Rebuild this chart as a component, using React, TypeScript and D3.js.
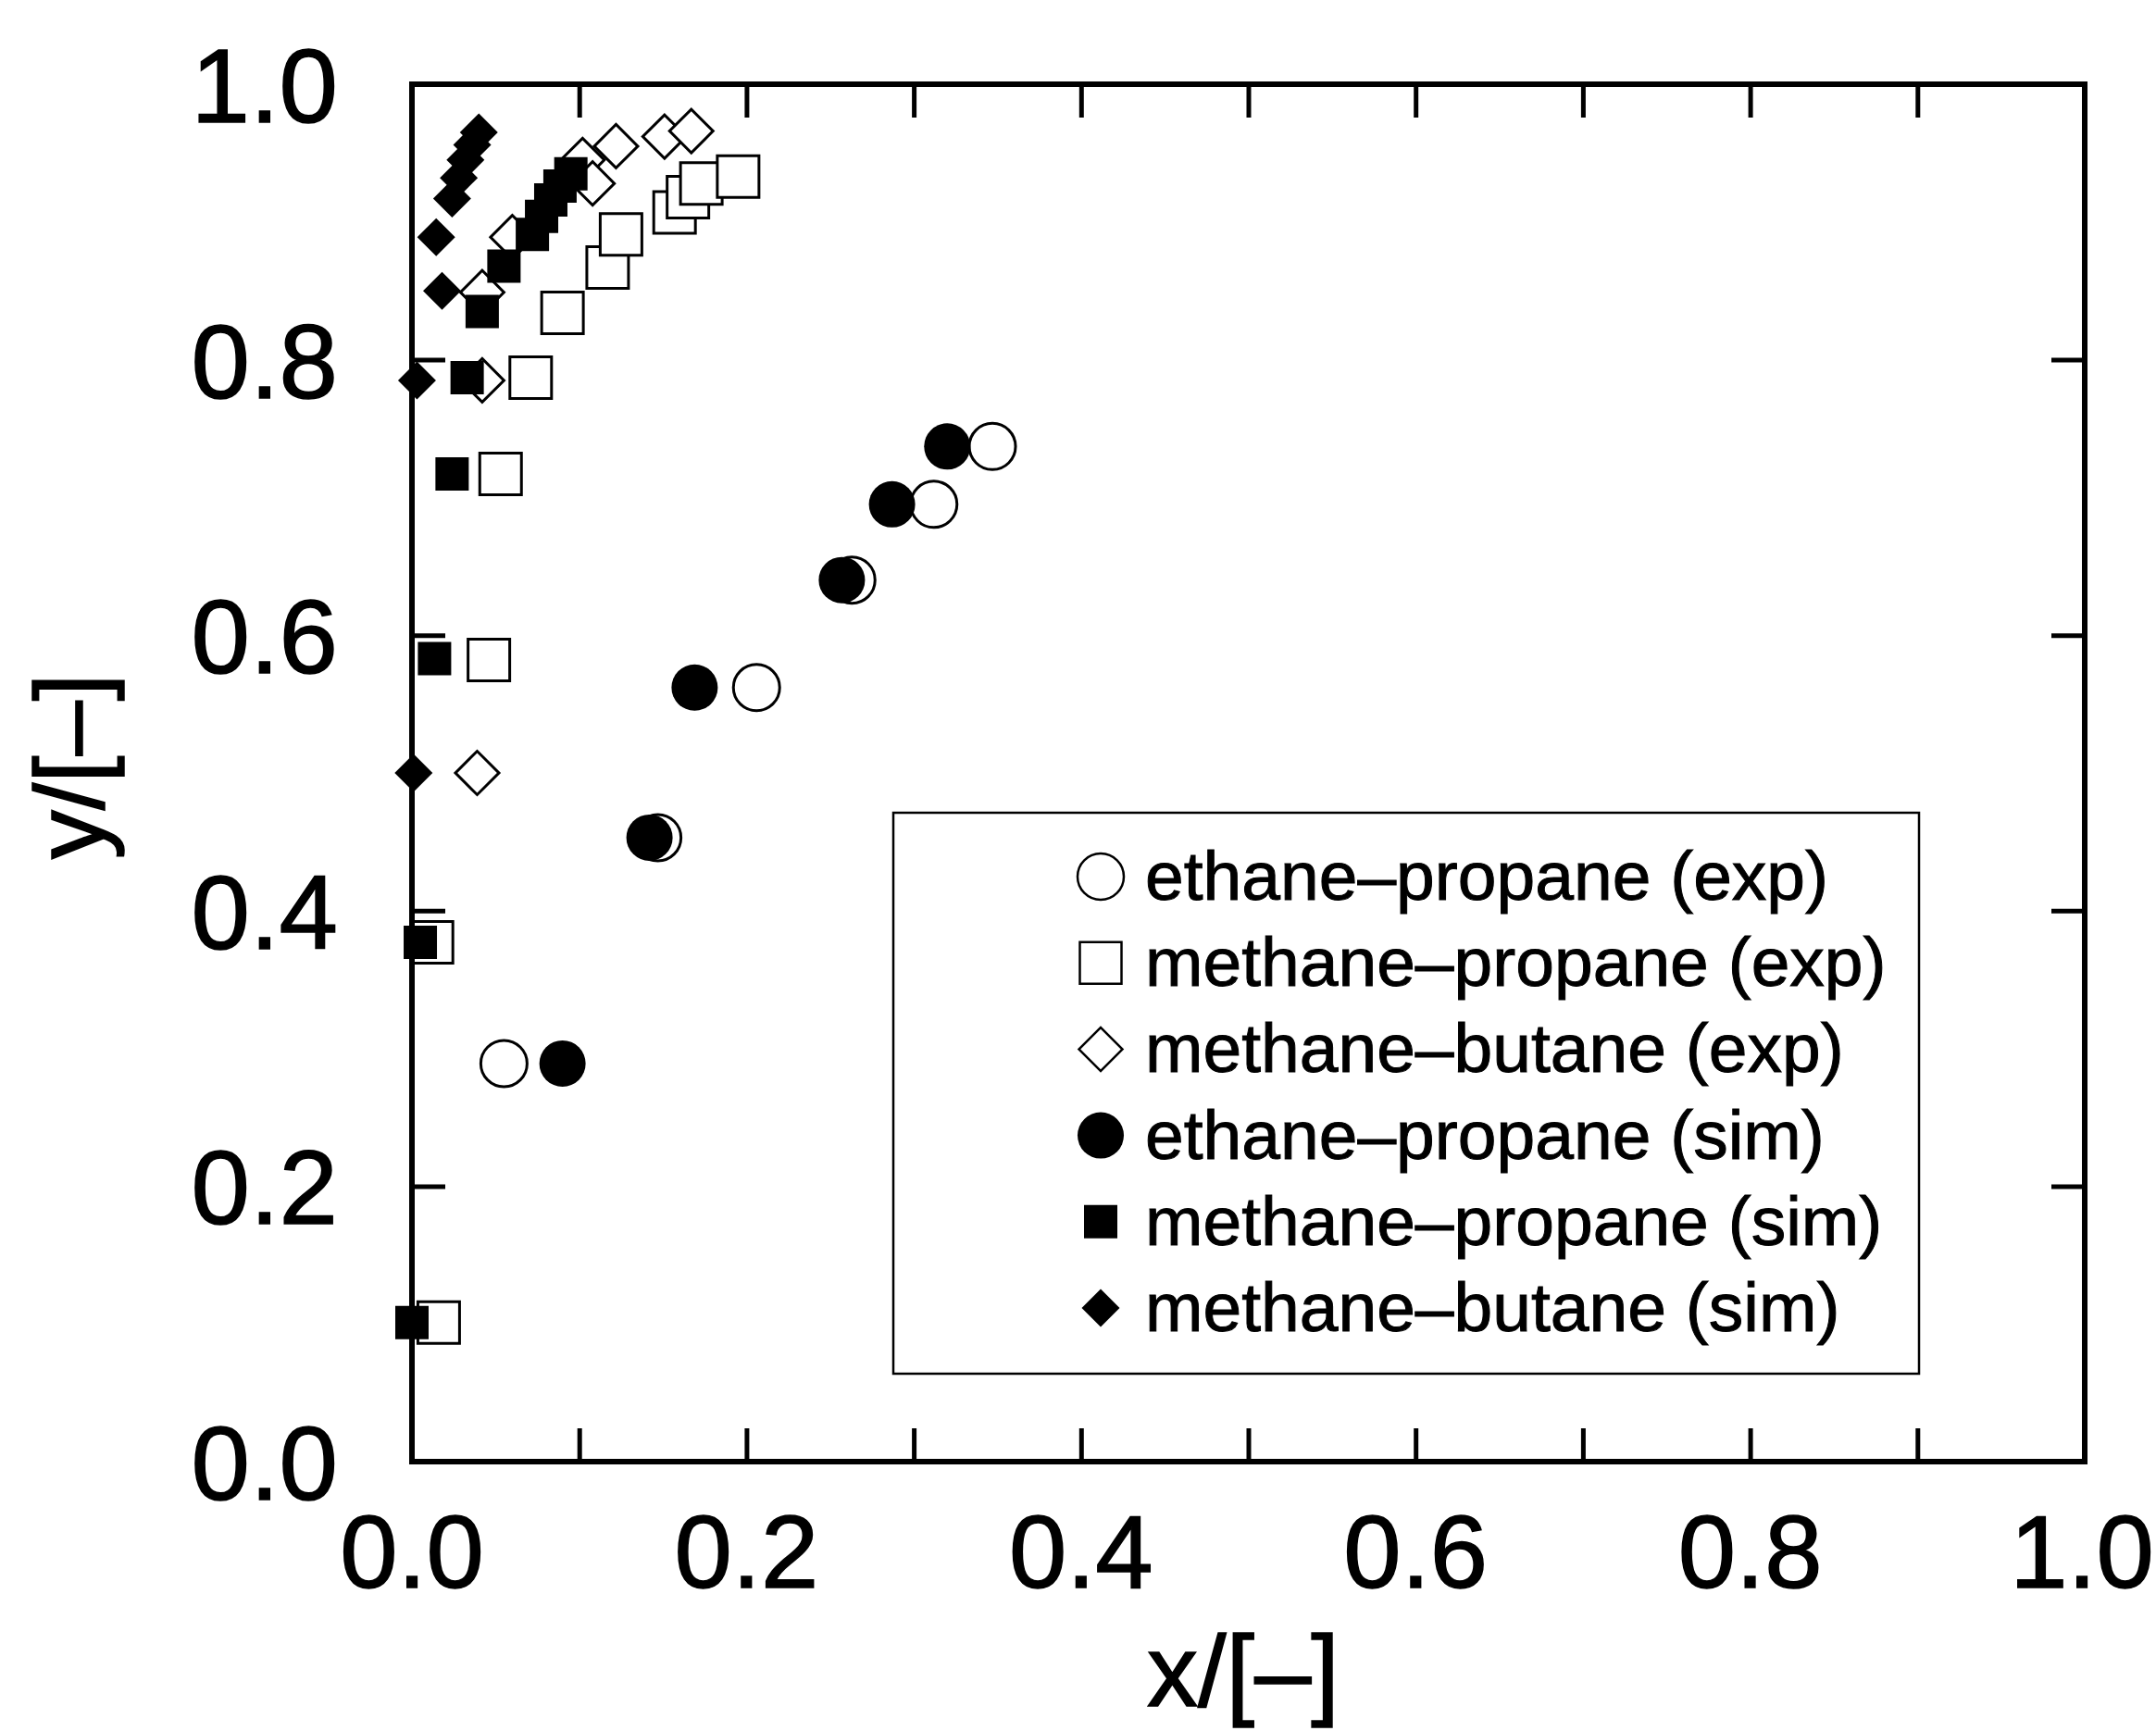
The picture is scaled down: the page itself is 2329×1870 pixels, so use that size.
import { useEffect, useRef } from "react";
import * as d3 from "d3";

// data: [x, y]
const ethanePropaneExp: [number, number][] = [
  [0.055, 0.289], [0.147, 0.453], [0.206, 0.562], [0.263, 0.640],
  [0.312, 0.695], [0.347, 0.737],
];
const methanePropaneExp: [number, number][] = [
  [0.016, 0.101], [0.012, 0.377], [0.046, 0.582], [0.053, 0.717],
  [0.071, 0.787], [0.090, 0.834], [0.117, 0.867], [0.125, 0.891],
  [0.157, 0.907], [0.165, 0.918], [0.173, 0.928], [0.195, 0.933],
];
const methaneButaneExp: [number, number][] = [
  [0.039, 0.500], [0.042, 0.785], [0.042, 0.849], [0.060, 0.889],
  [0.102, 0.945], [0.108, 0.928], [0.122, 0.955], [0.151, 0.962],
  [0.167, 0.966],
];
const ethanePropaneSim: [number, number][] = [
  [0.090, 0.289], [0.142, 0.453], [0.169, 0.562], [0.257, 0.640],
  [0.287, 0.695], [0.320, 0.737],
];
const methanePropaneSim: [number, number][] = [
  [0.000, 0.101], [0.005, 0.377], [0.0135, 0.583], [0.024, 0.717],
  [0.033, 0.787], [0.042, 0.835], [0.055, 0.868], [0.072, 0.891],
  [0.0775, 0.904], [0.083, 0.916], [0.0885, 0.926], [0.095, 0.935],
];
const methaneButaneSim: [number, number][] = [
  [0.001, 0.500], [0.003, 0.785], [0.018, 0.850], [0.0145, 0.889],
  [0.024, 0.917], [0.028, 0.932], [0.032, 0.945], [0.036, 0.956],
  [0.040, 0.965],
];

const legendLabels = [
  "ethane\u2013propane (exp)",
  "methane\u2013propane (exp)",
  "methane\u2013butane (exp)",
  "ethane\u2013propane (sim)",
  "methane\u2013propane (sim)",
  "methane\u2013butane (sim)",
];

const xLabelTicks = [0, 0.2, 0.4, 0.6, 0.8, 1.0];
const xMarkTicks = [0.1, 0.2, 0.3, 0.4, 0.5, 0.6, 0.7, 0.8, 0.9];
const yLabelTicks = [0, 0.2, 0.4, 0.6, 0.8, 1.0];
const yMarkTicks = [0.2, 0.4, 0.6, 0.8];

const FONT = "'Liberation Sans', Arial, Helvetica, sans-serif";

type Marker = { shape: "circle" | "square" | "diamond"; filled: boolean; size: number };

const markers: Marker[] = [
  { shape: "circle", filled: false, size: 50 },
  { shape: "square", filled: false, size: 45 },
  { shape: "diamond", filled: false, size: 47 },
  { shape: "circle", filled: true, size: 50 },
  { shape: "square", filled: true, size: 36 },
  { shape: "diamond", filled: true, size: 41 },
];

const App = () => {
  const ref = useRef<SVGSVGElement>(null);

  useEffect(() => {
    const svg = d3.select(ref.current);
    svg.selectAll("*").remove();

    const width = 2329, height = 1870;
    const left = 445, right = 2252, top = 91, bottom = 1579;

    const x = d3.scaleLinear().domain([0, 1]).range([left, right]);
    const y = d3.scaleLinear().domain([0, 1]).range([bottom, top]);

    svg.append("rect").attr("width", width).attr("height", height).attr("fill", "#fff");

    // tick marks on all four sides, pointing inward
    const tickLen = 36;
    const axisStyle = (g: any) => {
      g.select(".domain").remove();
      g.selectAll("line").attr("stroke", "#000").attr("stroke-width", 5);
    };
    svg.append("g").attr("transform", `translate(0,${bottom})`)
      .call(d3.axisBottom(x).tickValues(xMarkTicks).tickSize(-tickLen).tickFormat(() => ""))
      .call(axisStyle);
    svg.append("g").attr("transform", `translate(0,${top})`)
      .call(d3.axisTop(x).tickValues(xMarkTicks).tickSize(-tickLen).tickFormat(() => ""))
      .call(axisStyle);
    svg.append("g").attr("transform", `translate(${left},0)`)
      .call(d3.axisLeft(y).tickValues(yMarkTicks).tickSize(-tickLen).tickFormat(() => ""))
      .call(axisStyle);
    svg.append("g").attr("transform", `translate(${right},0)`)
      .call(d3.axisRight(y).tickValues(yMarkTicks).tickSize(-tickLen).tickFormat(() => ""))
      .call(axisStyle);

    // tick labels
    svg.append("g").selectAll("text").data(xLabelTicks).enter().append("text")
      .attr("x", d => Math.min(x(d), 2249)).attr("y", 1715)
      .attr("text-anchor", "middle")
      .attr("font-family", FONT).attr("font-size", 112)
      .attr("stroke", "#000").attr("stroke-width", 1.5)
      .text(d => d.toFixed(1));
    svg.append("g").selectAll("text").data(yLabelTicks).enter().append("text")
      .attr("x", 365).attr("y", d => y(d) + 41)
      .attr("text-anchor", "end")
      .attr("font-family", FONT).attr("font-size", 114)
      .attr("stroke", "#000").attr("stroke-width", 1.5)
      .text(d => d.toFixed(1));

    // axis titles
    svg.append("text").attr("x", 1343).attr("y", 1843)
      .attr("text-anchor", "middle").attr("font-family", FONT).attr("font-size", 110)
      .attr("stroke", "#000").attr("stroke-width", 1.5)
      .text("x/[\u2013]");
    svg.append("text").attr("transform", "translate(112,828) rotate(-90)")
      .attr("text-anchor", "middle").attr("font-family", FONT).attr("font-size", 106)
      .attr("stroke", "#000").attr("stroke-width", 1.5)
      .text("y/[\u2013]");

    const symbolPath = (m: Marker) => {
      if (m.shape === "circle") return d3.symbol().type(d3.symbolCircle).size(Math.PI * (m.size / 2) ** 2)()!;
      if (m.shape === "square") return d3.symbol().type(d3.symbolSquare).size(m.size * m.size)()!;
      const side = m.size / Math.SQRT2;
      return d3.symbol().type(d3.symbolSquare).size(side * side)()!;
    };
    const drawMarkers = (data: [number, number][], m: Marker) => {
      svg.append("g").selectAll("path")
        .data([...data].sort((a, b) => a[0] - b[0]))
        .enter().append("path")
        .attr("d", symbolPath(m))
        .attr("transform", d => `translate(${x(d[0])},${y(d[1])})${m.shape === "diamond" ? " rotate(45)" : ""}`)
        .attr("fill", m.filled ? "#000" : "#fff")
        .attr("stroke", "#000")
        .attr("stroke-width", m.filled ? 0 : 3);
    };

    const series = [ethanePropaneExp, methanePropaneExp, methaneButaneExp,
      ethanePropaneSim, methanePropaneSim, methaneButaneSim];
    series.forEach((s, i) => drawMarkers(s, markers[i]));

    // frame
    svg.append("rect")
      .attr("x", left).attr("y", top)
      .attr("width", right - left).attr("height", bottom - top)
      .attr("fill", "none").attr("stroke", "#000").attr("stroke-width", 6);

    // legend
    const lg = svg.append("g");
    lg.append("rect")
      .attr("x", 965).attr("y", 878).attr("width", 1108).attr("height", 606)
      .attr("fill", "#fff").attr("stroke", "#000").attr("stroke-width", 2.5);
    legendLabels.forEach((label, i) => {
      const cy = 947 + i * 93.2;
      const m = markers[i];
      lg.append("path")
        .attr("d", symbolPath(m))
        .attr("transform", `translate(1189,${cy})${m.shape === "diamond" ? " rotate(45)" : ""}`)
        .attr("fill", m.filled ? "#000" : "#fff")
        .attr("stroke", "#000")
        .attr("stroke-width", m.filled ? 0 : 2.5);
      lg.append("text")
        .attr("x", 1237).attr("y", cy + 25)
        .attr("font-family", FONT).attr("font-size", 75)
        .attr("stroke", "#000").attr("stroke-width", 1)
        .text(label);
    });
  }, []);

  return (
    <svg ref={ref} width={2329} height={1870}
      style={{ position: "absolute", left: 0, top: 0, display: "block" }} />
  );
};

export default App;
